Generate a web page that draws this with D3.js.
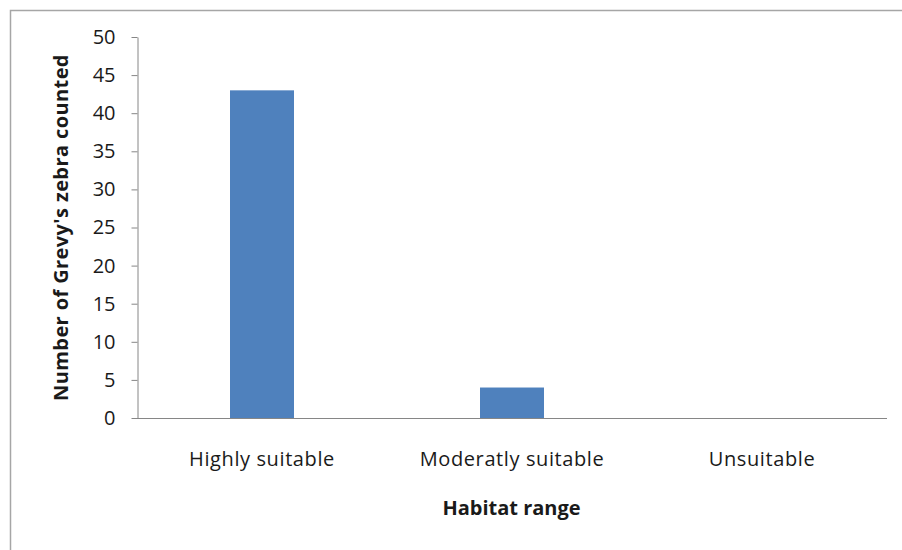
<!DOCTYPE html>
<html>
<head>
<meta charset="utf-8">
<script src="https://cdn.jsdelivr.net/npm/d3@7/dist/d3.min.js"></script>
<style>
  html, body { margin: 0; padding: 0; background: #fff; }
  svg { display: block; }
  text { font-family: "Open Sans", Lato, "Liberation Sans", sans-serif; fill: #1a1a1a; }
</style>
</head>
<body>
<script>
// Grevy's zebra counts by habitat class
const categories = ["Highly suitable", "Moderatly suitable", "Unsuitable"];
const counts = [43, 4, 0];
const yTicks = [0, 5, 10, 15, 20, 25, 30, 35, 40, 45, 50];

const W = 902, H = 550;
const plot = { left: 137, right: 887, top: 37, bottom: 418 };

const svg = d3.select("body").append("svg").attr("width", W).attr("height", H);

// chart frame
svg.append("path")
  .attr("d", `M10.5,${H} L10.5,10.5 L${W},10.5`)
  .attr("fill", "none").attr("stroke", "#a6a6a6").attr("stroke-width", 1.5);

const x = d3.scaleBand().domain(categories)
  .range([plot.left, plot.right]).paddingInner(0.744).paddingOuter(0.372);
const y = d3.scaleLinear().domain([0, 50]).range([plot.bottom, plot.top]);

// bars
svg.append("g").selectAll("rect").data(counts).join("rect")
  .attr("x", (d, i) => x(categories[i]))
  .attr("width", x.bandwidth())
  .attr("y", d => y(d))
  .attr("height", d => y(0) - y(d))
  .attr("fill", "#4F81BD");

// y axis
const yAxis = svg.append("g").attr("transform", `translate(${plot.left + 0.5},0)`)
  .call(d3.axisLeft(y).tickValues(yTicks).tickSize(6).tickPadding(16).tickSizeOuter(0));
yAxis.select(".domain").attr("stroke", "#868686");
yAxis.selectAll(".tick line").attr("stroke", "#868686");
yAxis.selectAll(".tick text").style("font-size", "20px").attr("fill", "#1a1a1a");

// x axis
const xAxis = svg.append("g").attr("transform", `translate(0,${plot.bottom + 0.5})`)
  .call(d3.axisBottom(x).tickSize(0).tickPadding(33).tickSizeOuter(0));
xAxis.select(".domain").attr("stroke", "#868686")
  .attr("d", `M${plot.left},0H${plot.right}`);
xAxis.selectAll(".tick text")
  .style("font-size", "20px").style("letter-spacing", "0.6px")
  .attr("fill", "#1a1a1a");

// axis titles
svg.append("text")
  .attr("x", 511.5).attr("y", 515)
  .attr("text-anchor", "middle")
  .style("font-size", "20px").style("font-weight", "bold")
  .text("Habitat range");

svg.append("text")
  .attr("transform", `translate(68,${227.5}) rotate(-90)`)
  .attr("text-anchor", "middle")
  .style("font-size", "20px").style("font-weight", "bold")
  .style("letter-spacing", "0.4px")
  .text("Number of Grevy's zebra counted");
</script>
</body>
</html>
